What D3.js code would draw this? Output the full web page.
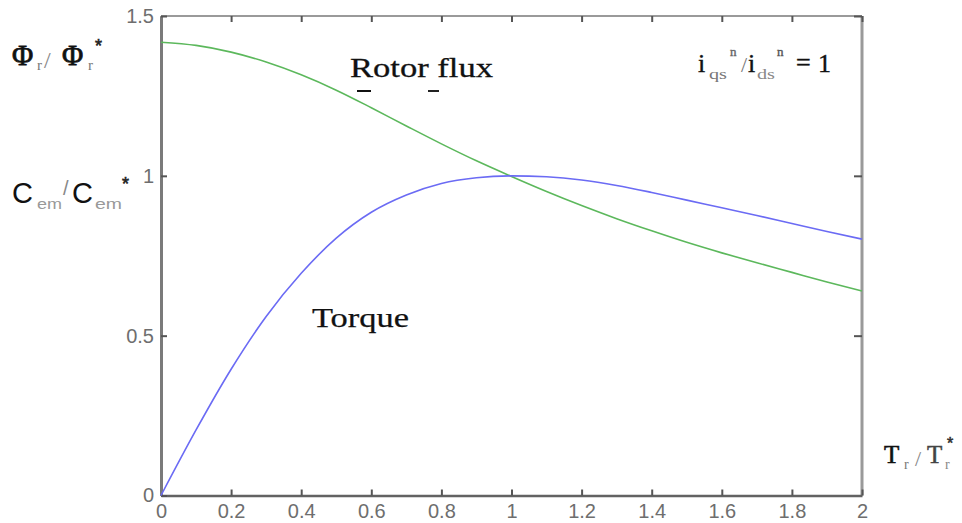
<!DOCTYPE html>
<html>
<head>
<meta charset="utf-8">
<script src="https://cdn.jsdelivr.net/npm/d3@7/dist/d3.min.js"></script>
<style>
  body { margin: 0; background: #fff; }
  svg { display: block; }
</style>
</head>
<body>
<svg></svg>
<script>
// values
var ratio     = [0, 0.1, 0.2, 0.3, 0.4, 0.5, 0.6, 0.7, 0.8, 0.9, 1.0, 1.1, 1.2, 1.3, 1.4, 1.5, 1.6, 1.7, 1.8, 1.9, 2.0];
var rotorFlux = [1.418, 1.408, 1.387, 1.356, 1.316, 1.268, 1.213, 1.156, 1.100, 1.047, 0.998, 0.951, 0.907, 0.866, 0.828, 0.792, 0.759, 0.728, 0.698, 0.668, 0.640];
var torque    = [0, 0.205, 0.395, 0.560, 0.695, 0.805, 0.886, 0.940, 0.976, 0.994, 1.000, 0.997, 0.987, 0.970, 0.948, 0.924, 0.900, 0.876, 0.851, 0.826, 0.802];

var xTicks = [0, 0.2, 0.4, 0.6, 0.8, 1, 1.2, 1.4, 1.6, 1.8, 2];
var yTicks = [0, 0.5, 1, 1.5];

var W = 962, H = 523;
var box = {left: 161, right: 862, top: 16, bottom: 495.5};

var svg = d3.select("svg").attr("width", W).attr("height", H);

var x = d3.scaleLinear().domain([0, 2]).range([box.left, box.right]);
var y = d3.scaleLinear().domain([0, 1.5]).range([box.bottom, box.top]);

// frame: top/right lighter
svg.append("line").attr("x1", box.left).attr("x2", box.right).attr("y1", box.top).attr("y2", box.top)
  .style("stroke", "#9a9a9a").style("stroke-width", 2);
svg.append("line").attr("x1", box.right).attr("x2", box.right).attr("y1", box.top).attr("y2", box.bottom)
  .style("stroke", "#9a9a9a").style("stroke-width", 3);

function styleAxis(g, lineColor, lineWidth) {
  g.select(".domain").style("stroke", lineColor).style("stroke-width", lineWidth);
  g.selectAll(".tick line").style("stroke", "#555").style("stroke-width", 2);
  g.selectAll("text").style("font-family", "Liberation Sans, Arial, sans-serif")
    .style("font-size", "20px").style("fill", "#6e6e6e");
}

svg.append("g").attr("transform", "translate(0," + box.top + ")")
  .call(d3.axisTop(x).tickValues(xTicks).tickSizeInner(-6).tickSizeOuter(0).tickFormat(""))
  .call(function(g) { styleAxis(g, "none", 0); });

svg.append("g").attr("transform", "translate(" + box.right + ",0)")
  .call(d3.axisRight(y).tickValues(yTicks).tickSizeInner(-8).tickSizeOuter(0).tickFormat(""))
  .call(function(g) { styleAxis(g, "none", 0); });

svg.append("g").attr("transform", "translate(0," + box.bottom + ")")
  .call(d3.axisBottom(x).tickValues(xTicks).tickSizeInner(-6).tickSizeOuter(0).tickPadding(8).tickFormat(function(d) { return String(d); }))
  .call(function(g) { styleAxis(g, "#626262", 2.5); });

svg.append("g").attr("transform", "translate(" + box.left + ",0)")
  .call(d3.axisLeft(y).tickValues(yTicks).tickSizeInner(-6).tickSizeOuter(0).tickPadding(7).tickFormat(function(d) { return String(d); }))
  .call(function(g) { styleAxis(g, "#7a7a7a", 3); });

// curves
var line = d3.line().curve(d3.curveMonotoneX);

svg.append("path")
  .attr("d", line(ratio.map(function(r, i) { return [x(r), y(rotorFlux[i])]; })))
  .style("fill", "none").style("stroke", "#5cb85c").style("stroke-width", 1.6);

svg.append("path")
  .attr("d", line(ratio.map(function(r, i) { return [x(r), y(torque[i])]; })))
  .style("fill", "none").style("stroke", "#6b6bf4").style("stroke-width", 1.6);

// labels (serif bold faked with a thin stroke)
function txt(s, px, py, size, fam, opts) {
  opts = opts || {};
  var t = svg.append("text").attr("x", px).attr("y", py).text(s)
    .style("font-family", fam).style("font-size", size + "px")
    .style("fill", opts.fill || "#111");
  if (opts.heavy) t.style("stroke", opts.fill || "#111").style("stroke-width", opts.heavy);
  if (opts.len) t.attr("textLength", opts.len).attr("lengthAdjust", "spacingAndGlyphs");
  return t;
}
var serif = "Liberation Serif, Times New Roman, serif";
var sans = "Liberation Sans, Arial, sans-serif";

txt("Rotor flux", 350, 77, 28, serif, {len: 143, heavy: 0.3});
svg.append("rect").attr("x", 357).attr("y", 90).attr("width", 14).attr("height", 2).style("fill", "#111");
svg.append("rect").attr("x", 428).attr("y", 90).attr("width", 11).attr("height", 2).style("fill", "#222");

txt("Torque", 312, 327, 28, serif, {len: 97, heavy: 0.25});

// Φr / Φr*
txt("\u03A6", 12, 65, 29, serif, {heavy: 0.8});
txt("r", 37, 70, 15, serif, {fill: "#777"});
txt("/", 44, 68, 24, serif, {fill: "#888"});
txt("\u03A6", 62, 65, 29, serif, {heavy: 0.8});
txt("r", 88, 70, 15, serif, {fill: "#777"});
txt("*", 95, 52, 18, sans, {fill: "#222", heavy: 0.6});

// Cem / Cem*
txt("C", 12, 203, 29, sans);
txt("em", 37, 209, 14, sans, {fill: "#999", len: 25});
txt("/", 63, 195, 20, sans, {fill: "#888"});
txt("C", 72, 203, 29, sans);
txt("em", 95, 209, 14, sans, {fill: "#999", len: 27});
txt("*", 122, 190, 18, sans, {fill: "#222", heavy: 0.6});

// iqs^n / ids^n = 1
txt("i", 698, 72, 26, serif, {heavy: 0.4});
txt("qs", 709, 79, 15, serif, {fill: "#777", len: 18});
txt("n", 730, 56, 13, serif, {fill: "#666", heavy: 0.4});
txt("/", 741, 72, 22, serif, {fill: "#777"});
txt("i", 748, 72, 26, serif, {heavy: 0.4});
txt("ds", 757, 79, 15, serif, {fill: "#888", len: 18});
txt("n", 777, 56, 13, serif, {fill: "#555", heavy: 0.4});
txt("=", 796, 71, 26, serif, {heavy: 0.5});
txt("1", 818, 72, 26, serif, {heavy: 0.4});

// Tr / Tr*
txt("T", 884, 463, 25, serif, {heavy: 0.6});
txt("r", 904, 469, 14, serif, {fill: "#777"});
txt("/", 915, 466, 22, serif, {fill: "#888"});
txt("T", 927, 463, 25, serif, {fill: "#444", heavy: 0.5});
txt("r", 945, 469, 14, serif, {fill: "#888"});
txt("*", 947, 449, 16, sans, {fill: "#333", heavy: 0.6});
</script>
</body>
</html>
